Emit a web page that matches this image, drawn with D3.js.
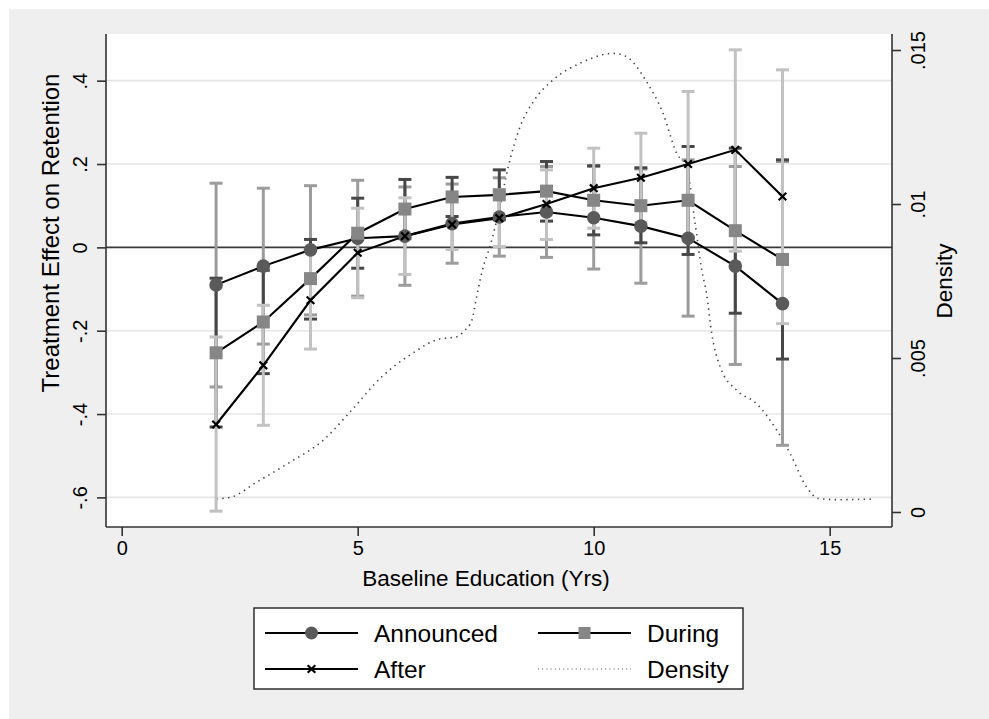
<!DOCTYPE html>
<html>
<head>
<meta charset="utf-8">
<script src="https://cdn.jsdelivr.net/npm/d3@7"></script>
<style>
  body { margin: 0; background: #ffffff; }
  svg { display: block; }
  text { font-family: "Liberation Sans", Arial, Helvetica, sans-serif; fill: #000; }
</style>
</head>
<body>
<svg id="chart" width="989" height="719"></svg>
<script>
// Years of baseline education at which effects were estimated
const education = [2, 3, 4, 5, 6, 7, 8, 9, 10, 11, 12, 13, 14];

// Announced: point estimates and 95% interval bounds
const announced   = [-0.090, -0.045, -0.006, 0.022, 0.027, 0.057, 0.073, 0.085, 0.071, 0.051, 0.022, -0.045, -0.135];
const announcedLo = [-0.335, -0.232, -0.162, -0.117, -0.091, -0.038, -0.021, -0.024, -0.052, -0.086, -0.165, -0.281, -0.475];
const announcedHi = [0.154, 0.142, 0.148, 0.161, 0.145, 0.152, 0.167, 0.194, 0.194, 0.188, 0.210, 0.194, 0.206];

// During
const during   = [-0.253, -0.179, -0.075, 0.034, 0.092, 0.121, 0.126, 0.135, 0.113, 0.100, 0.113, 0.040, -0.029];
const duringLo = [-0.431, -0.303, -0.172, -0.050, 0.021, 0.074, 0.066, 0.063, 0.030, 0.011, -0.017, -0.158, -0.268];
const duringHi = [-0.074, -0.055, 0.019, 0.118, 0.163, 0.168, 0.186, 0.206, 0.196, 0.191, 0.242, 0.238, 0.210];

// After
const after   = [-0.425, -0.283, -0.127, -0.013, 0.027, 0.055, 0.070, 0.104, 0.142, 0.167, 0.200, 0.234, 0.122];
const afterLo = [-0.633, -0.427, -0.244, -0.121, -0.065, -0.005, 0.002, 0.019, 0.046, 0.059, 0.026, -0.009, -0.183];
const afterHi = [-0.215, -0.139, -0.009, 0.094, 0.119, 0.115, 0.138, 0.186, 0.238, 0.274, 0.374, 0.474, 0.426];

// Kernel density of baseline education (right axis)
const densityX = [2.01, 2.29, 2.86, 3.57, 4.27, 4.84, 5.51, 6.18, 6.71, 7.10, 7.27, 7.42, 7.52, 7.66, 7.80, 8.01, 8.19, 8.44, 8.72, 9.14, 9.71, 10.42, 10.70, 11.12, 11.47, 11.76, 11.97, 12.14, 12.29, 12.39, 12.50, 12.68, 13.03, 13.45, 13.88, 14.16, 14.51, 14.76, 15.22, 15.96];
const densityY = [0.00043, 0.00047, 0.00097, 0.00162, 0.00233, 0.00325, 0.00439, 0.00517, 0.00561, 0.00569, 0.00590, 0.00623, 0.00699, 0.00796, 0.00861, 0.00991, 0.01121, 0.01251, 0.01332, 0.01403, 0.01457, 0.01489, 0.01478, 0.01397, 0.01294, 0.01164, 0.01121, 0.00947, 0.00785, 0.00710, 0.00580, 0.00471, 0.00395, 0.00352, 0.00265, 0.00190, 0.00081, 0.00044, 0.00040, 0.00042];

// Tick values and labels
const xTicks = [0, 5, 10, 15];
const xTickLabels = ["0", "5", "10", "15"];
const leftTicks = [-0.6, -0.4, -0.2, 0, 0.2, 0.4];
const leftTickLabels = ["-.6", "-.4", "-.2", "0", ".2", ".4"];
const rightTicks = [0, 0.005, 0.01, 0.015];
const rightTickLabels = ["0", ".005", ".01", ".015"];

const legendLabels = ["Announced", "During", "After", "Density"];

const svg = d3.select("#chart");
const W = 989, H = 719;
const plot = { left: 106, right: 892, top: 34, bottom: 527 };

// page and plot backgrounds
svg.append("rect").attr("x", 0).attr("y", 0).attr("width", W).attr("height", H).attr("fill", "#ffffff");
svg.append("rect").attr("x", 9).attr("y", 9).attr("width", W - 9).attr("height", H - 9).attr("fill", "#efefef");
svg.append("rect").attr("x", plot.left).attr("y", plot.top)
  .attr("width", plot.right - plot.left).attr("height", plot.bottom - plot.top).attr("fill", "#ffffff");

const x = d3.scaleLinear().domain([-0.3326, 16.32]).range([plot.left, plot.right]);
const yL = d3.scaleLinear().domain([-0.671, 0.512]).range([plot.bottom, plot.top]);
const yR = d3.scaleLinear().domain([-0.000487, 0.01552]).range([plot.bottom, plot.top]);

// horizontal grid
svg.append("g").selectAll("line").data(leftTicks.filter(d => d !== 0)).join("line")
  .attr("x1", plot.left).attr("x2", plot.right)
  .attr("y1", d => yL(d)).attr("y2", d => yL(d))
  .attr("stroke", "#e6e6e6").attr("stroke-width", 1.6);

// zero reference line
svg.append("line").attr("x1", plot.left).attr("x2", plot.right)
  .attr("y1", yL(0)).attr("y2", yL(0)).attr("stroke", "#3a3a3a").attr("stroke-width", 1.6);

// density curve
svg.append("path")
  .datum(densityX.map((d, i) => [d, densityY[i]]))
  .attr("fill", "none").attr("stroke", "#444").attr("stroke-width", 1.6)
  .attr("stroke-dasharray", "1.4,4.4")
  .attr("d", d3.line().x(d => x(d[0])).y(d => yR(d[1])).curve(d3.curveMonotoneX));

// confidence intervals
function drawCI(lo, hi, color) {
  const g = svg.append("g").attr("stroke", color).attr("stroke-width", 3);
  const rows = education.map((e, i) => ({ e, lo: lo[i], hi: hi[i] }));
  g.selectAll("line.bar").data(rows).join("line").attr("class", "bar")
    .attr("x1", d => x(d.e)).attr("x2", d => x(d.e))
    .attr("y1", d => yL(d.lo)).attr("y2", d => yL(d.hi));
  g.selectAll("line.capl").data(rows).join("line").attr("class", "capl")
    .attr("x1", d => x(d.e) - 6.5).attr("x2", d => x(d.e) + 6.5)
    .attr("y1", d => yL(d.lo)).attr("y2", d => yL(d.lo));
  g.selectAll("line.caph").data(rows).join("line").attr("class", "caph")
    .attr("x1", d => x(d.e) - 6.5).attr("x2", d => x(d.e) + 6.5)
    .attr("y1", d => yL(d.hi)).attr("y2", d => yL(d.hi));
}
drawCI(announcedLo, announcedHi, "#9c9c9c");
drawCI(duringLo, duringHi, "#474747");
drawCI(afterLo, afterHi, "#c2c2c2");

// connecting lines
const seriesLine = d3.line().x((d, i) => x(education[i])).y(d => yL(d));
[announced, during, after].forEach(vals => {
  svg.append("path").datum(vals).attr("fill", "none")
    .attr("stroke", "#000").attr("stroke-width", 2.1).attr("d", seriesLine);
});

// markers
function circleMarker(sel, r) { return sel.append("circle").attr("r", r).attr("fill", "#5a5a5a"); }
function squareMarker(sel, s) {
  return sel.append("rect").attr("x", -s / 2).attr("y", -s / 2).attr("width", s).attr("height", s).attr("fill", "#868686");
}
function crossMarker(sel, h) {
  return sel.append("path").attr("d", `M${-h},${-h}L${h},${h}M${-h},${h}L${h},${-h}`)
    .attr("stroke", "#000").attr("stroke-width", 2.2).attr("fill", "none");
}
education.forEach((e, i) => {
  circleMarker(svg.append("g").attr("transform", `translate(${x(e)},${yL(announced[i])})`), 6.8);
});
education.forEach((e, i) => {
  squareMarker(svg.append("g").attr("transform", `translate(${x(e)},${yL(during[i])})`), 13);
});
education.forEach((e, i) => {
  crossMarker(svg.append("g").attr("transform", `translate(${x(e)},${yL(after[i])})`), 3.8);
});

// axes
const axisColor = "#333";
const gL = svg.append("g").attr("transform", `translate(${plot.left},0)`)
  .call(d3.axisLeft(yL).tickValues(leftTicks).tickFormat((d, i) => leftTickLabels[i]).tickSize(9).tickSizeOuter(0));
gL.select(".domain").attr("d", `M0,${plot.top}V${plot.bottom}`);
gL.selectAll("text").attr("transform", "rotate(-90)").attr("x", 0).attr("y", -19).attr("dy", 0)
  .attr("text-anchor", "middle").style("font-size", "20px");

const gR = svg.append("g").attr("transform", `translate(${plot.right},0)`)
  .call(d3.axisRight(yR).tickValues(rightTicks).tickFormat((d, i) => rightTickLabels[i]).tickSize(9).tickSizeOuter(0));
gR.select(".domain").attr("d", `M0,${plot.top}V${plot.bottom}`);
gR.selectAll("text").attr("transform", "rotate(-90)").attr("x", 0).attr("y", 33).attr("dy", 0)
  .attr("text-anchor", "middle").style("font-size", "20px");

const gB = svg.append("g").attr("transform", `translate(0,${plot.bottom})`)
  .call(d3.axisBottom(x).tickValues(xTicks).tickFormat((d, i) => xTickLabels[i]).tickSize(9).tickSizeOuter(0));
gB.select(".domain").attr("d", `M${plot.left},0H${plot.right}`);
gB.selectAll("text").attr("y", 28).attr("dy", 0).style("font-size", "20px");

[gL, gR, gB].forEach(g => {
  g.attr("font-family", null).attr("font-size", null);
  g.selectAll(".domain").attr("stroke", axisColor).attr("stroke-width", 1.6);
  g.selectAll(".tick line").attr("stroke", axisColor).attr("stroke-width", 1.6);
  g.selectAll("text").attr("fill", "#000");
});

// axis titles
svg.append("text").attr("transform", "translate(59,233) rotate(-90)")
  .attr("text-anchor", "middle").style("font-size", "24px").text("Treatment Effect on Retention");
svg.append("text").attr("transform", "translate(952,281) rotate(-90)")
  .attr("text-anchor", "middle").style("font-size", "22.5px").text("Density");
svg.append("text").attr("x", 486).attr("y", 586)
  .attr("text-anchor", "middle").style("font-size", "22.5px").text("Baseline Education (Yrs)");

// legend
const lg = svg.append("g");
lg.append("rect").attr("x", 254).attr("y", 608).attr("width", 489).attr("height", 81)
  .attr("fill", "#ffffff").attr("stroke", "#222").attr("stroke-width", 1.4);
const items = [
  { label: legendLabels[0], col: 0, row: 0, kind: "circle" },
  { label: legendLabels[1], col: 1, row: 0, kind: "square" },
  { label: legendLabels[2], col: 0, row: 1, kind: "cross" },
  { label: legendLabels[3], col: 1, row: 1, kind: "density" }
];
const colX = [265, 538], rowY = [633, 669], sampleW = 93;
items.forEach(it => {
  const x0 = colX[it.col], yy = rowY[it.row];
  const g = lg.append("g");
  if (it.kind === "density") {
    g.append("line").attr("x1", x0).attr("x2", x0 + sampleW).attr("y1", yy).attr("y2", yy)
      .attr("stroke", "#555").attr("stroke-width", 1.2).attr("stroke-dasharray", "1,3.2");
  } else {
    g.append("line").attr("x1", x0).attr("x2", x0 + sampleW).attr("y1", yy).attr("y2", yy)
      .attr("stroke", "#000").attr("stroke-width", 2.1);
    const m = g.append("g").attr("transform", `translate(${x0 + sampleW / 2},${yy})`);
    if (it.kind === "circle") circleMarker(m, 6.5);
    if (it.kind === "square") squareMarker(m, 12);
    if (it.kind === "cross") crossMarker(m, 3.8);
  }
  g.append("text").attr("x", x0 + 109).attr("y", yy + 8.5).style("font-size", "24.5px").text(it.label);
});
</script>
</body>
</html>
